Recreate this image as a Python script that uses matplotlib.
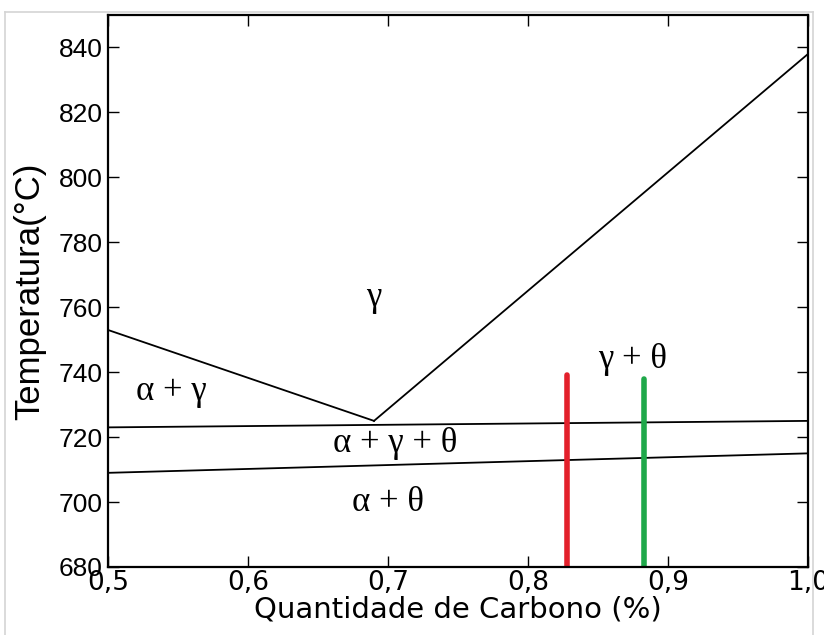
import matplotlib.pyplot as plt
from matplotlib.lines import Line2D

# phase boundaries (carbon %, temperature C)
a3_x = [0.5, 0.69]
a3_y = [753, 725]
acm_x = [0.69, 1.0]
acm_y = [725, 838]
upper_x = [0.5, 1.0]
upper_y = [723, 725]
lower_x = [0.5, 1.0]
lower_y = [709, 715]

# alloys marked
red_c = 0.828
red_top = 739
green_c = 0.883
green_top = 738

regions = ["γ", "α + γ", "α + γ + θ", "α + θ", "γ + θ"]
region_x = [0.69, 0.545, 0.705, 0.70, 0.875]
region_y = [763, 734, 718, 700, 744]

xticks = [0.5, 0.6, 0.7, 0.8, 0.9, 1.0]
xtick_labels = ["0,5", "0,6", "0,7", "0,8", "0,9", "1,0"]
yticks = [680, 700, 720, 740, 760, 780, 800, 820, 840]

fig = plt.figure(figsize=(8.24, 6.35), dpi=100)
ax = fig.add_axes([108 / 824, 1 - 567 / 635, 700 / 824, 552 / 635])

for xs, ys in [(a3_x, a3_y), (acm_x, acm_y), (upper_x, upper_y), (lower_x, lower_y)]:
    ax.plot(xs, ys, color="black", lw=1.3)

ax.plot([red_c, red_c], [680, red_top], color="#e3202b", lw=4, solid_capstyle="round")
ax.plot([green_c, green_c], [680, green_top], color="#1fa84a", lw=4, solid_capstyle="round")

for lab, x, y in zip(regions, region_x, region_y):
    ax.text(x, y, lab, fontsize=25, family="Liberation Serif", ha="center", va="center")

ax.set_xlim(0.5, 1.0)
ax.set_ylim(680, 850)
ax.set_xticks(xticks)
ax.set_xticklabels(xtick_labels)
ax.set_yticks(yticks)
ax.tick_params(direction="in", length=8, width=1, top=True, right=True,
               labelsize=19, pad=4)
ax.tick_params(axis="x", pad=2)
for lbl in ax.get_yticklabels():
    lbl.set_family("Liberation Sans")
    lbl.set_fontsize(19)
for s in ax.spines.values():
    s.set_linewidth(1.6)

ax.set_xlabel("Quantidade de Carbono (%)", fontsize=21, labelpad=0)
ax.set_ylabel("Temperatura(°C)", fontsize=25, family="Liberation Sans", labelpad=9)

# light screenshot frame
frame = "#d4d4d4"
fig.add_artist(Line2D([5 / 824, 5 / 824], [0, 1 - 12 / 635], color=frame, lw=1.2))
fig.add_artist(Line2D([5 / 824, 813 / 824], [1 - 12 / 635, 1 - 12 / 635], color=frame, lw=1.2))
fig.add_artist(Line2D([813 / 824, 813 / 824], [0, 1 - 12 / 635], color=frame, lw=1.2))

fig.savefig("out.png", dpi=100)
